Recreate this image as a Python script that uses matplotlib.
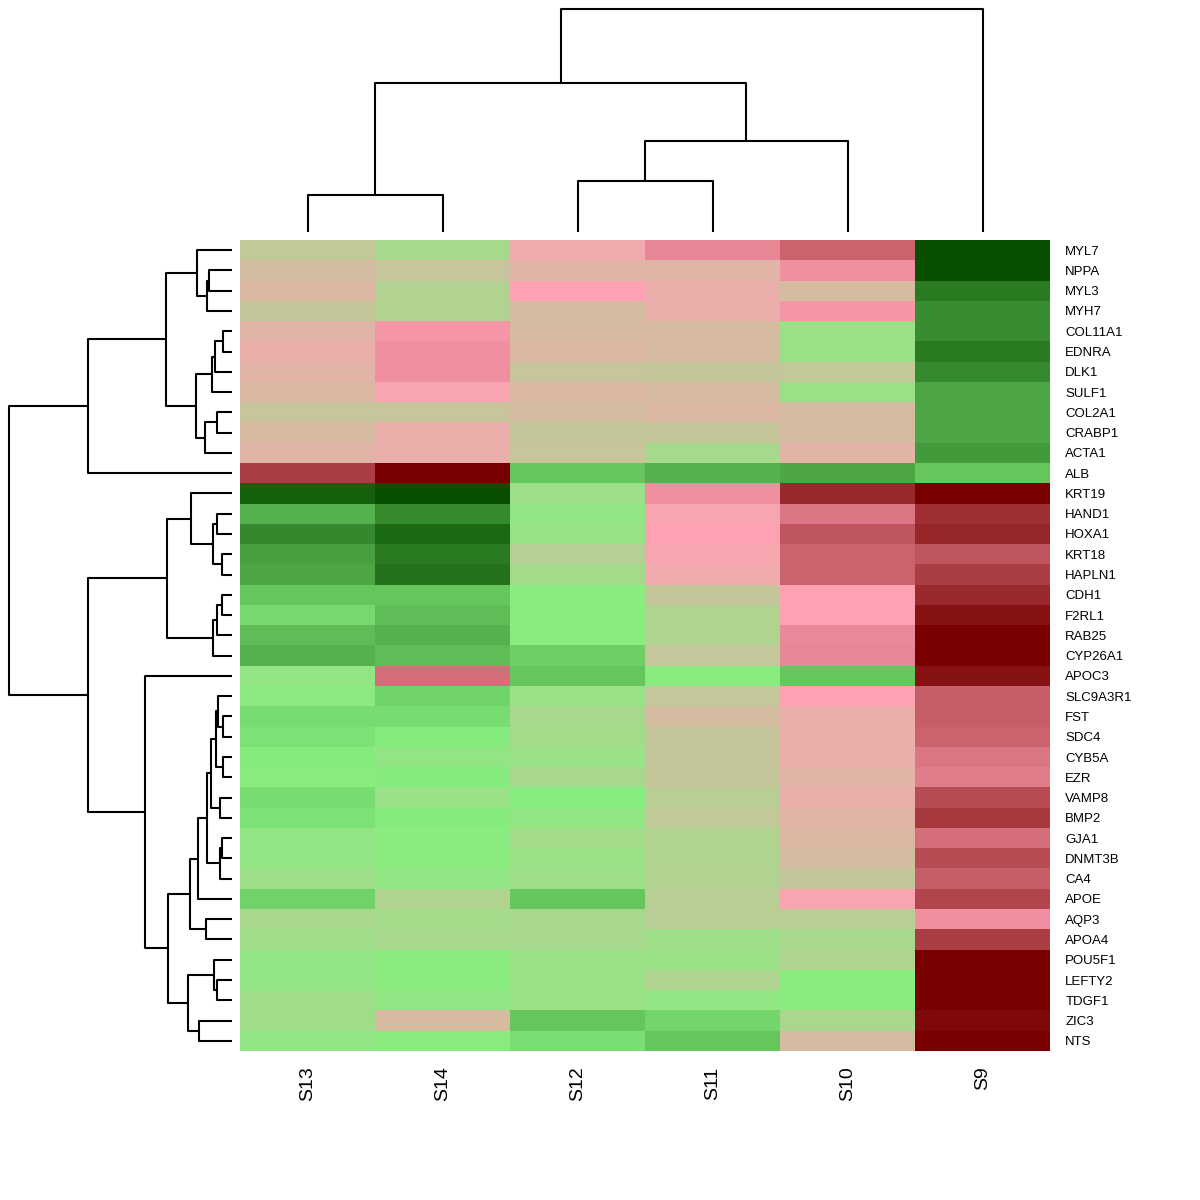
import numpy as np
import matplotlib
matplotlib.use("Agg")
import matplotlib.pyplot as plt
from matplotlib.colors import LinearSegmentedColormap

plt.rcParams['font.family'] = ['Liberation Sans', 'DejaVu Sans']

samples = ["S13", "S14", "S12", "S11", "S10", "S9"]
genes = ["MYL7", "NPPA", "MYL3", "MYH7", "COL11A1", "EDNRA", "DLK1", "SULF1",
         "COL2A1", "CRABP1", "ACTA1", "ALB", "KRT19", "HAND1", "HOXA1", "KRT18",
         "HAPLN1", "CDH1", "F2RL1", "RAB25", "CYP26A1", "APOC3", "SLC9A3R1", "FST",
         "SDC4", "CYB5A", "EZR", "VAMP8", "BMP2", "GJA1", "DNMT3B", "CA4", "APOE",
         "AQP3", "APOA4", "POU5F1", "LEFTY2", "TDGF1", "ZIC3", "NTS"]

# row-scaled expression, columns in the order of `samples`
expr = [
    [-0.01, -0.14, 0.23, 0.42, 0.57, -1.0],
    [0.08, 0.03, 0.16, 0.16, 0.38, -1.0],
    [0.13, -0.08, 0.30, 0.20, 0.09, -0.81],
    [0.01, -0.08, 0.09, 0.20, 0.35, -0.72],
    [0.16, 0.35, 0.10, 0.10, -0.19, -0.72],
    [0.20, 0.38, 0.13, 0.10, -0.19, -0.81],
    [0.16, 0.38, 0.03, 0.01, -0.01, -0.74],
    [0.13, 0.27, 0.13, 0.10, -0.19, -0.61],
    [0.03, 0.03, 0.09, 0.13, 0.09, -0.61],
    [0.10, 0.20, 0.01, 0.01, 0.09, -0.61],
    [0.16, 0.20, 0.03, -0.14, 0.16, -0.67],
    [0.73, 1.0, -0.47, -0.57, -0.61, -0.47],
    [-0.92, -1.0, -0.18, 0.38, 0.82, 1.0],
    [-0.57, -0.74, -0.24, 0.27, 0.48, 0.79],
    [-0.75, -0.88, -0.21, 0.30, 0.63, 0.83],
    [-0.64, -0.81, -0.06, 0.26, 0.57, 0.63],
    [-0.61, -0.84, -0.15, 0.23, 0.57, 0.73],
    [-0.47, -0.47, -0.28, 0.01, 0.30, 0.82],
    [-0.39, -0.51, -0.28, -0.09, 0.30, 0.92],
    [-0.51, -0.57, -0.28, -0.09, 0.40, 1.0],
    [-0.57, -0.51, -0.43, 0.0, 0.42, 1.0],
    [-0.23, 0.52, -0.47, -0.28, -0.47, 0.92],
    [-0.26, -0.42, -0.20, 0.0, 0.30, 0.59],
    [-0.37, -0.37, -0.13, 0.09, 0.20, 0.59],
    [-0.35, -0.31, -0.16, 0.01, 0.20, 0.57],
    [-0.31, -0.23, -0.20, 0.01, 0.20, 0.48],
    [-0.28, -0.31, -0.13, 0.01, 0.16, 0.46],
    [-0.37, -0.20, -0.29, -0.05, 0.20, 0.67],
    [-0.35, -0.31, -0.24, -0.01, 0.16, 0.75],
    [-0.23, -0.28, -0.16, -0.09, 0.13, 0.52],
    [-0.23, -0.28, -0.20, -0.09, 0.09, 0.67],
    [-0.18, -0.24, -0.18, -0.08, 0.01, 0.59],
    [-0.42, -0.09, -0.47, -0.05, 0.27, 0.70],
    [-0.13, -0.16, -0.13, -0.05, -0.05, 0.38],
    [-0.17, -0.13, -0.13, -0.18, -0.13, 0.73],
    [-0.24, -0.28, -0.20, -0.20, -0.09, 1.0],
    [-0.24, -0.28, -0.20, -0.09, -0.28, 1.0],
    [-0.17, -0.24, -0.20, -0.24, -0.28, 1.0],
    [-0.17, 0.10, -0.47, -0.40, -0.11, 0.96],
    [-0.24, -0.28, -0.36, -0.47, 0.09, 1.0],
]

# hclust style merges: negative = leaf (1-based, display order), positive = earlier merge
col_merge = [(-1, -2, 37), (-3, -4, 51), (2, -5, 91), (1, 3, 149), (4, -6, 223)]
row_merge = [
    (-2, -3, 23.3), (1, -4, 25.3), (-1, 2, 35), (-5, -6, 9.3), (4, -7, 17),
    (5, -8, 20.3), (-9, -10, 14.7), (7, -11, 26.7), (6, 8, 36), (3, 9, 66),
    (10, -12, 144), (-14, -15, 15.3), (-16, -17, 10.3), (12, 13, 18.7),
    (-13, 14, 40.7), (-18, -19, 10.3), (16, -20, 15.3), (17, -21, 18.7),
    (15, 18, 64.7), (-24, -25, 8.7), (-23, 20, 14), (-26, -27, 8.7), (21, 22, 16.3),
    (-28, -29, 12), (23, 24, 20.7), (-30, -31, 10.3), (26, -32, 12), (25, 27, 25.3),
    (28, -33, 34), (-34, -35, 26.3), (29, 30, 42.3), (-37, -38, 15.3), (-36, 32, 18.3),
    (-39, -40, 32.7), (33, 34, 44), (31, 35, 64.3), (-22, 36, 87.3), (19, 37, 144),
    (11, 38, 223.3),
]


def dendro_segments(merges):
    pos, hgt, segs = {}, {}, []

    def node(k):
        if k < 0:
            return -k - 1, 0.0
        return pos[k], hgt[k]

    for i, (a, b, h) in enumerate(merges, start=1):
        pa, ha = node(a)
        pb, hb = node(b)
        segs.append(([pa, pa, pb, pb], [ha, h, h, hb]))
        pos[i] = (pa + pb) / 2
        hgt[i] = h
    return segs


cmap = LinearSegmentedColormap.from_list(
    "gpr", [(0.0, "#085000"), (0.35, "#86ee7e"), (0.65, "#ffa2b4"), (1.0, "#780000")])

W = H = 1200
fig = plt.figure(figsize=(12, 12), dpi=100)

# heatmap
ax = fig.add_axes([240 / W, 1 - 1051 / H, 810 / W, 811 / H])
ax.imshow(np.array(expr), cmap=cmap, vmin=-1, vmax=1, aspect="auto", interpolation="nearest")
ax.set_xlim(-0.5, len(samples) - 0.5)
ax.set_ylim(len(genes) - 0.5, -0.5)
for s in ax.spines.values():
    s.set_visible(False)
ax.set_xticks(range(len(samples)))
ax.set_xticklabels(samples, rotation=90, fontsize=14, va="top")
ax.set_yticks(range(len(genes)))
ax.set_yticklabels(genes, fontsize=9.5)
ax.yaxis.tick_right()
ax.tick_params(axis="x", length=0, pad=11)
ax.tick_params(axis="y", length=0, pad=11)

# column dendrogram
axc = fig.add_axes([240 / W, 1 - 240 / H, 810 / W, 240 / H])
for xs, ys in dendro_segments(col_merge):
    axc.plot(xs, ys, color="black", lw=1.5, solid_capstyle="butt")
axc.set_xlim(-0.5, len(samples) - 0.5)
axc.set_ylim(-8, 232)
axc.axis("off")

# row dendrogram
axr = fig.add_axes([0, 1 - 1051 / H, 240 / W, 811 / H])
for ys, xs in dendro_segments(row_merge):
    axr.plot(xs, ys, color="black", lw=1.5, solid_capstyle="butt")
axr.set_xlim(232, -8)
axr.set_ylim(len(genes) - 0.5, -0.5)
axr.axis("off")

fig.savefig("out.png", dpi=100, facecolor="white")
